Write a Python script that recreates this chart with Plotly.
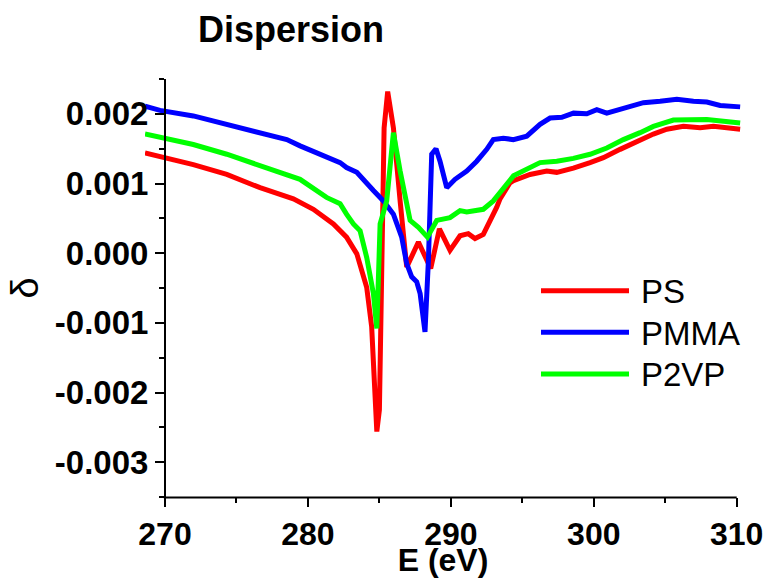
import plotly.graph_objects as go

# ---------------- data ----------------
ps_E = [268.6, 269.65, 271.98, 274.32, 276.65, 278.98, 280.38, 281.78, 282.25, 282.7,
        283.42, 284.11, 284.46, 284.7, 284.82, 285.0, 285.16, 285.33, 285.58, 285.98,
        286.45, 286.91, 287.73, 288.59, 289.2, 289.94, 290.64, 291.22, 291.69, 292.27,
        293.21, 293.44, 294.14, 294.38, 295.54, 296.71, 297.41, 298.57, 299.74, 300.67,
        301.84, 303.01, 304.17, 305.11, 306.27, 307.44, 308.37, 310.24]
ps_d = [0.00144, 0.00139, 0.00127, 0.00113, 0.00094, 0.00078, 0.00063, 0.00042, 0.00032, 0.00023,
        -0.00001, -0.00049, -0.00106, -0.00201, -0.00256, -0.00225, -0.00058, 0.00180, 0.00232, 0.00180,
        0.00075, -0.00020, 0.00016, -0.00022, 0.00035, 0.00004, 0.00025, 0.00028, 0.00021, 0.00027,
        0.00066, 0.00078, 0.00101, 0.00104, 0.00113, 0.00118, 0.00116, 0.00122, 0.00130, 0.00137,
        0.00149, 0.00161, 0.00171, 0.00178, 0.00182, 0.00180, 0.00182, 0.00178]

pmma_E = [268.6, 269.65, 271.98, 274.32, 276.65, 277.58, 278.52, 279.45, 281.3, 282.25,
          282.7, 283.42, 284.58, 285.28, 285.98, 286.56, 286.91, 287.26, 287.61, 287.85,
          288.19, 288.43, 288.66, 288.96, 289.24, 289.71, 290.29, 291.11, 291.81, 292.51,
          292.97, 293.67, 294.37, 295.07, 295.31, 296.24, 296.94, 297.76, 298.58, 299.51,
          300.21, 300.91, 302.31, 303.47, 304.64, 305.81, 306.97, 307.91, 308.84, 310.24]
pmma_d = [0.00211, 0.00205, 0.00197, 0.00185, 0.00173, 0.00167, 0.00163, 0.00154, 0.00137, 0.00130,
          0.00123, 0.00116, 0.00090, 0.00075, 0.00056, 0.00023, -0.00015, -0.00034, -0.00041, -0.00058,
          -0.00113, -0.00010, 0.00142, 0.00150, 0.00132, 0.00094, 0.00106, 0.00118, 0.00132, 0.00149,
          0.00163, 0.00165, 0.00163, 0.00167, 0.00168, 0.00185, 0.00194, 0.00195, 0.00201, 0.00200,
          0.00206, 0.00201, 0.00209, 0.00216, 0.00218, 0.00221, 0.00218, 0.00217, 0.00212, 0.00210]

p2vp_E = [268.6, 269.65, 271.98, 274.32, 276.65, 278.52, 279.45, 281.3, 282.25, 282.7,
          283.18, 283.65, 284.11, 284.58, 284.82, 285.05, 285.51, 285.98, 286.45, 287.15,
          287.73, 288.36, 289.01, 289.94, 290.64, 291.11, 292.27, 292.97, 294.38, 296.24,
          297.41, 298.57, 299.74, 300.91, 302.07, 303.24, 304.17, 305.57, 306.97, 307.91, 310.24]
p2vp_d = [0.00171, 0.00166, 0.00156, 0.00142, 0.00125, 0.00113, 0.00106, 0.00080, 0.00071, 0.00056,
          0.00042, 0.00032, -0.00006, -0.00058, -0.00108, 0.00042, 0.00075, 0.00173, 0.00118, 0.00047,
          0.00037, 0.00023, 0.00047, 0.00051, 0.00061, 0.00059, 0.00063, 0.00075, 0.00111, 0.00130,
          0.00132, 0.00136, 0.00142, 0.00151, 0.00163, 0.00173, 0.00182, 0.00191, 0.00191, 0.00192, 0.00187]

series_names = ["PS", "PMMA", "P2VP"]
series_colors = ["#ff0000", "#0000ff", "#00ff00"]

x_ticks = [270, 280, 290, 300, 310]
x_ticktext = ["270", "280", "290", "300", "310"]
y_ticks = [0.002, 0.001, 0.0, -0.001, -0.002, -0.003]
y_ticktext = ["0.002", "0.001", "0.000", "-0.001", "-0.002", "-0.003"]

# ---------------- layout geometry ----------------
W, H = 769, 578
ML, MR, MT, MB = 145, 28, 79, 81
X_RANGE = [268.6, 310.3]
Y_RANGE = [-0.0035, 0.0025]
PW, PH = W - ML - MR, H - MT - MB

def px(xp):
    return (xp - ML) / PW

def py(yp):
    return (H - MB - yp) / PH

def xfrac(v):
    return (v - X_RANGE[0]) / (X_RANGE[1] - X_RANGE[0])

FAM = "Liberation Sans, Arial, sans-serif"
BOLD = dict(family=FAM, size=33, color="black", weight="bold")
XBOLD = dict(family=FAM, size=32, color="black", weight="bold")
TBOLD = dict(family=FAM, size=36, color="black", weight="bold")
REG = dict(family=FAM, size=33, color="black")

fig = go.Figure()
for E, d, name, col in zip([ps_E, pmma_E, p2vp_E], [ps_d, pmma_d, p2vp_d],
                           series_names, series_colors):
    fig.add_trace(go.Scatter(x=E, y=d, mode="lines", name=name,
                             line=dict(color=col, width=5), showlegend=False))

yaxis_pos = xfrac(x_ticks[0])

fig.update_layout(
    width=W, height=H,
    margin=dict(l=ML, r=MR, t=MT, b=MB, autoexpand=False),
    paper_bgcolor="white", plot_bgcolor="white",
    title=dict(text="Dispersion", font=TBOLD, x=px(291), xref="paper", xanchor="center",
               y=1 - 29 / H, yref="container", yanchor="middle"),
    xaxis=dict(range=X_RANGE, showline=False, showgrid=False, zeroline=False,
               tickvals=x_ticks, ticktext=x_ticktext, ticks="outside", ticklen=9,
               tickwidth=2, tickcolor="black", tickfont=XBOLD,
               minor=dict(tickvals=[275, 285, 295, 305], ticks="outside", ticklen=5,
                          tickwidth=2, tickcolor="black"),
               title=dict(text="E (eV)", font=XBOLD, standoff=6), automargin=False),
    yaxis=dict(range=Y_RANGE, anchor="free", position=yaxis_pos, showline=True,
               linewidth=2, linecolor="black", showgrid=False, zeroline=False,
               tickvals=y_ticks, ticktext=y_ticktext, ticks="outside", ticklen=9,
               tickwidth=2, tickcolor="black", tickfont=BOLD,
               minor=dict(dtick=0.0005, tick0=0, ticks="outside", ticklen=5,
                          tickwidth=2, tickcolor="black"),
               title=dict(text="δ", font=dict(family=FAM, size=38, color="black"), standoff=4),
               automargin=False),
)

# x axis line from 270 to 310 (curves run a little past the left end, as in the reference)
fig.add_shape(type="line", xref="paper", yref="paper", x0=xfrac(x_ticks[0]) - 0.002,
              x1=xfrac(x_ticks[-1]), y0=-0.001, y1=-0.001,
              line=dict(color="black", width=2))

# custom legend with long line samples
leg_y = [290.7, 332.3, 374.0]
for name, col, yy in zip(series_names, series_colors, leg_y):
    fig.add_shape(type="line", xref="paper", yref="paper", x0=px(541), x1=px(629),
                  y0=py(yy), y1=py(yy), line=dict(color=col, width=5))
    fig.add_annotation(text=name, xref="paper", yref="paper", x=px(639), y=py(yy + 1),
                       xanchor="left", yanchor="middle", showarrow=False, font=REG)

fig.write_html("out.html")
